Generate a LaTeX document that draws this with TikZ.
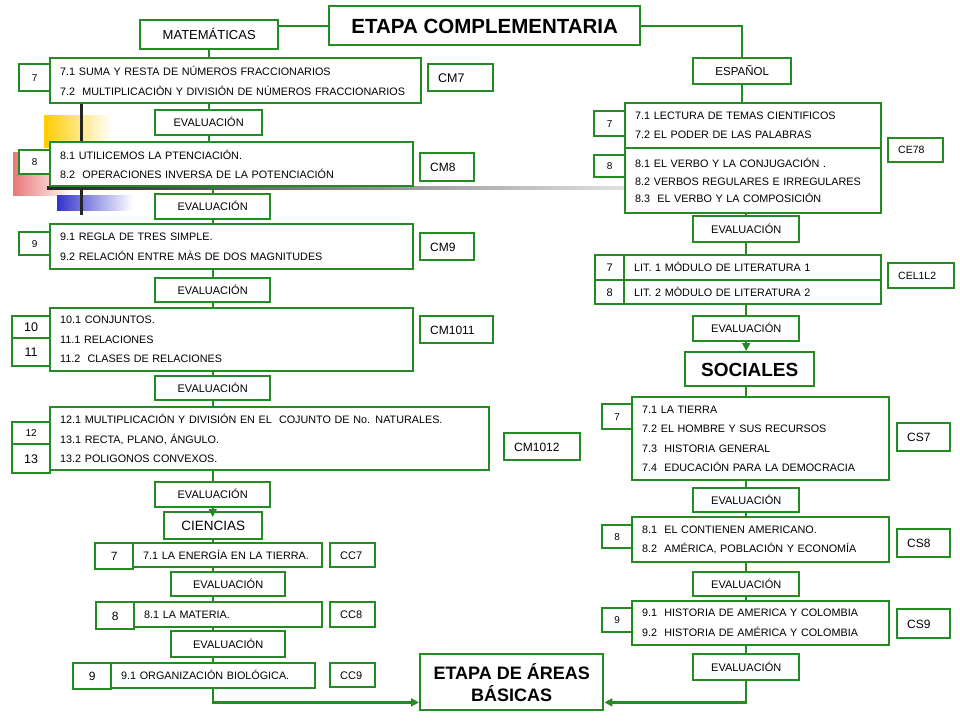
\documentclass[tikz,border=0pt]{standalone}
\usepackage{fontspec}
\setmainfont{Liberation Sans}
\usepackage{tikz}
\usetikzlibrary{arrows.meta,calc}

\definecolor{grn}{RGB}{34,140,34}
\definecolor{ylw}{RGB}{255,204,0}
\definecolor{pnk}{RGB}{232,120,120}
\definecolor{blu}{RGB}{51,51,204}

\begin{document}
\begin{tikzpicture}[x=1pt, y=-1pt,
  box/.style={draw=grn, line width=2.4pt, fill=white, anchor=north west, inner sep=0pt},
  topic/.style={box, align=left, inner xsep=10pt, font=\fontsize{10.8}{19.5}\selectfont},
  code/.style={box, align=left, inner xsep=10pt, text height=8.6pt, text depth=0pt, font=\fontsize{12}{14}\selectfont},
  num/.style={box, align=center, text height=7.2pt, text depth=0pt, font=\fontsize{10}{12}\selectfont},
  bignum/.style={num, text height=9pt, font=\fontsize{12.5}{14}\selectfont},
  evalbox/.style={box, minimum width=#1, minimum height=25pt, text height=8pt, text depth=0pt, font=\fontsize{11}{13}\selectfont},
  evalbox/.default=115pt,
  areabox/.style={box, text height=9.3pt, text depth=0pt, font=\fontsize{13}{15}\selectfont},
  link/.style={draw=grn, line width=2.4pt},
  arr/.style={link, -{Triangle[length=8pt,width=8pt]}}]
\useasboundingbox (0,0) rectangle (960,720);

% slide decoration
\shade[left color=ylw, middle color=ylw, right color=white] (44,115) rectangle (112,147);
\shade[left color=pnk, right color=white] (13,152) rectangle (72,195);
\shade[left color=blu, middle color=blu, right color=white] (57,195) rectangle (133,210);
\fill[black!85] (79.5,104) rectangle (82.5,215);
\shade[left color=black!85, right color=black!12] (47,186.5) rectangle (624,189.5);

% headings
\node[box, minimum width=311pt, minimum height=39pt, text height=14.7pt, text depth=0pt, font=\bfseries\fontsize{20.5}{24}\selectfont] (title) at (328,5) {ETAPA COMPLEMENTARIA};
\node[areabox, minimum width=138pt, minimum height=29pt] (mat) at (139,19) {MATEMÁTICAS};
\node[areabox, minimum width=98pt, minimum height=26pt, text height=8.2pt, font=\fontsize{11.5}{13}\selectfont] (esp) at (692,57) {ESPAÑOL};

% matematicas
\node[num, minimum width=31pt, minimum height=27pt] (m7n) at (18,63) {7};
\node[topic, text width=351pt, minimum height=45pt] (m7) at (49,57) {7.1 SUMA Y RESTA DE NÚMEROS FRACCIONARIOS\\7.2 \ MULTIPLICACIÒN Y DIVISIÓN DE NÚMEROS FRACCIONARIOS};
\node[code, text width=45pt, minimum height=27pt, text height=9pt, font=\fontsize{12.5}{14}\selectfont] (cm7) at (427,63) {CM7};
\node[evalbox=107pt] (ev1) at (154,109) {EVALUACIÓN};

\node[num, minimum width=31pt, minimum height=24pt] (m8n) at (18,149) {8};
\node[topic, text width=343pt, minimum height=44pt] (m8) at (49,141) {8.1 UTILICEMOS LA PTENCIACIÓN.\\8.2 \ OPERACIONES INVERSA DE LA POTENCIACIÓN};
\node[code, text width=34pt, minimum height=28pt] (cm8) at (419,152) {CM8};
\node[evalbox] (ev2) at (154,193) {EVALUACIÓN};

\node[num, minimum width=31pt, minimum height=23pt] (m9n) at (18,231) {9};
\node[topic, text width=343pt, minimum height=45pt] (m9) at (49,223) {9.1 REGLA DE TRES SIMPLE.\\9.2 RELACIÓN ENTRE MÀS DE DOS MAGNITUDES};
\node[code, text width=34pt, minimum height=27pt] (cm9) at (419,232) {CM9};
\node[evalbox, minimum height=24pt] (ev3) at (154,277) {EVALUACIÓN};

\node[bignum, minimum width=38pt, minimum height=22pt] (m10n) at (11,315) {10};
\node[bignum, minimum width=38pt, minimum height=28pt] (m11n) at (11,337) {11};
\node[topic, text width=343pt, minimum height=63pt] (m10) at (49,307) {10.1 CONJUNTOS.\\11.1 RELACIONES\\11.2 \ CLASES DE RELACIONES};
\node[code, text width=53pt, minimum height=27pt] (cm10) at (419,315) {CM1011};
\node[evalbox, minimum height=24pt] (ev4) at (154,375) {EVALUACIÓN};

\node[num, minimum width=38pt, minimum height=22pt] (m12n) at (11,421) {12};
\node[bignum, minimum width=38pt, minimum height=29pt] (m13n) at (11,443) {13};
\node[topic, text width=419pt, minimum height=63pt] (m12) at (49,406) {12.1 MULTIPLICACIÓN Y DIVISIÓN EN EL \ COJUNTO DE No. NATURALES.\\13.1 RECTA, PLANO, ÁNGULO.\\13.2 POLIGONOS CONVEXOS.};
\node[code, text width=56pt, minimum height=27pt] (cm12) at (503,432) {CM1012};
\node[evalbox] (ev5) at (154,481) {EVALUACIÓN};

% ciencias
\node[areabox, minimum width=98pt, minimum height=27pt, font=\fontsize{13.5}{15}\selectfont] (cien) at (163,511) {CIENCIAS};
\node[bignum, minimum width=38pt, minimum height=26pt, font=\fontsize{12}{14}\selectfont, text height=8.6pt] (c7n) at (94,542) {7};
\node[topic, text width=169pt, minimum height=24pt, text height=7.8pt, text depth=0pt] (c7) at (132,542) {7.1 LA ENERGÍA EN LA TIERRA.};
\node[code, text width=25pt, minimum height=24pt, text height=7.9pt, font=\fontsize{11}{13}\selectfont] (cc7) at (329,542) {CC7};
\node[evalbox=114pt, minimum height=24pt] (cev1) at (170,571) {EVALUACIÓN};

\node[bignum, minimum width=38pt, minimum height=27pt, font=\fontsize{12}{14}\selectfont, text height=8.6pt] (c8n) at (95,601) {8};
\node[topic, text width=168pt, minimum height=25pt, text height=7.8pt, text depth=0pt] (c8) at (133,601) {8.1 LA MATERIA.};
\node[code, text width=25pt, minimum height=25pt, text height=7.9pt, font=\fontsize{11}{13}\selectfont] (cc8) at (329,601) {CC8};
\node[evalbox=114pt, minimum height=26pt] (cev2) at (170,630) {EVALUACIÓN};

\node[bignum, minimum width=38pt, minimum height=26pt, font=\fontsize{12}{14}\selectfont, text height=8.6pt] (c9n) at (72,662) {9};
\node[topic, text width=184pt, minimum height=25pt, text height=7.8pt, text depth=0pt] (c9) at (110,662) {9.1 ORGANIZACIÓN BIOLÓGICA.};
\node[code, text width=25pt, minimum height=24pt, text height=7.9pt, font=\fontsize{11}{13}\selectfont] (cc9) at (329,662) {CC9};

\node[box, minimum width=183pt, minimum height=56pt, align=center, font=\bfseries\fontsize{18}{22}\selectfont] (basicas) at (419,653) {ETAPA DE ÁREAS\\BÁSICAS};

% espanol
\node[num, minimum width=31pt, minimum height=25pt] (e7n) at (593,110) {7};
\node[topic, text width=236pt, minimum height=45pt, font=\fontsize{10.8}{19}\selectfont] (e7) at (624,102) {7.1 LECTURA DE TEMAS CIENTIFICOS\\7.2 EL PODER DE LAS PALABRAS};
\node[num, minimum width=31pt, minimum height=22pt] (e8n) at (593,154) {8};
\node[topic, text width=236pt, minimum height=65pt, font=\fontsize{10.8}{17.5}\selectfont] (e8) at (624,147) {8.1 EL VERBO Y LA CONJUGACIÓN .\\8.2 VERBOS REGULARES E IRREGULARES\\8.3 \ EL VERBO Y LA COMPOSICIÓN};
\node[code, text width=35pt, minimum height=24pt, text height=7.5pt, font=\fontsize{10.5}{12}\selectfont] (ce78) at (887,137) {CE78};
\node[evalbox=106pt, minimum height=26pt] (eev1) at (692,215) {EVALUACIÓN};

\node[num, minimum width=29pt, minimum height=25pt, text height=8pt, font=\fontsize{11}{13}\selectfont] (l7n) at (594,254) {7};
\node[num, minimum width=29pt, minimum height=24pt, text height=8pt, font=\fontsize{11}{13}\selectfont] (l8n) at (594,279) {8};
\node[topic, text width=237pt, minimum height=25pt, text height=7.8pt, text depth=0pt] (lit1) at (623,254) {LIT. 1 MÓDULO DE LITERATURA 1};
\node[topic, text width=237pt, minimum height=24pt, text height=7.8pt, text depth=0pt] (lit2) at (623,279) {LIT. 2 MÒDULO DE LITERATURA 2};
\node[code, text width=46pt, minimum height=25pt, text height=7.5pt, font=\fontsize{10.5}{12}\selectfont] (cel) at (887,262) {CEL1L2};
\node[evalbox=106pt] (eev2) at (692,315) {EVALUACIÓN};

% sociales
\node[box, minimum width=129pt, minimum height=34pt, text height=13.6pt, text depth=0pt, font=\bfseries\fontsize{19}{22}\selectfont] (soc) at (684,351) {SOCIALES};
\node[num, minimum width=30pt, minimum height=25pt] (s7n) at (601,403) {7};
\node[topic, text width=237pt, minimum height=83pt, font=\fontsize{10.8}{19.3}\selectfont] (s7) at (631,396) {7.1 LA TIERRA\\7.2 EL HOMBRE Y SUS RECURSOS\\7.3 \ HISTORIA GENERAL\\7.4 \ EDUCACIÓN PARA LA DEMOCRACIA};
\node[code, text width=33pt, minimum height=28pt] (cs7) at (896,422) {CS7};
\node[evalbox=106pt, minimum height=24pt] (sev1) at (692,487) {EVALUACIÓN};

\node[num, minimum width=30pt, minimum height=23pt] (s8n) at (601,524) {8};
\node[topic, text width=237pt, minimum height=45pt, font=\fontsize{10.8}{19}\selectfont] (s8) at (631,516) {8.1 \ EL CONTIENEN AMERICANO.\\8.2 \ AMÉRICA, POBLACIÓN Y ECONOMÍA};
\node[code, text width=33pt, minimum height=28pt] (cs8) at (896,528) {CS8};
\node[evalbox=106pt, minimum height=24pt] (sev2) at (692,571) {EVALUACIÓN};

\node[num, minimum width=30pt, minimum height=24pt] (s9n) at (601,607) {9};
\node[topic, text width=237pt, minimum height=44pt, font=\fontsize{10.8}{20}\selectfont] (s9) at (631,600) {9.1 \ HISTORIA DE AMERICA Y COLOMBIA\\9.2 \ HISTORIA DE AMÉRICA Y COLOMBIA};
\node[code, text width=33pt, minimum height=29pt] (cs9) at (896,608) {CS9};
\node[evalbox=106pt, minimum height=26pt] (sev3) at (692,653) {EVALUACIÓN};

% connectors
\draw[link] (title.west) -- (title.west -| mat.east);
\draw[link] (title.east) -| (esp.north);
\draw[link] (mat.south) -- (mat.south |- m7.north);
\draw[link] (ev1.north |- m7.south) -- (ev1.north) (ev1.south) -- (ev1.south |- m8.north);
\draw[link] (ev2.north |- m8.south) -- (ev2.north) (ev2.south) -- (ev2.south |- m9.north);
\draw[link] (ev3.north |- m9.south) -- (ev3.north) (ev3.south) -- (ev3.south |- m10.north);
\draw[link] (ev4.north |- m10.south) -- (ev4.north) (ev4.south) -- (ev4.south |- m12.north);
\draw[link] (ev5.north |- m12.south) -- (ev5.north);
\draw[arr] (ev5.south) -- ([yshift=-6pt]ev5.south |- cien.north);
\draw[link] (cien.south) -- (cien.south |- c7.north) (cien.south |- c7.south) -- (cien.south |- cev1.north)
  (cien.south |- cev1.south) -- (cien.south |- c8.north) (cien.south |- c8.south) -- (cien.south |- cev2.north)
  (cien.south |- cev2.south) -- (cien.south |- c9.north);
\draw[arr] (c9.south) |- ([yshift=9pt]basicas.south west);

\draw[link] (esp.south) -- (esp.south |- e7.north);
\draw[link] (eev1.north |- e8.south) -- (eev1.north) (eev1.south) -- (eev1.south |- lit1.north);
\draw[link] (eev2.north |- lit2.south) -- (eev2.north);
\draw[arr] (eev2.south) -- (eev2.south |- soc.north);
\draw[link] (sev1.north |- soc.south) -- (sev1.north |- s7.north) (sev1.north |- s7.south) -- (sev1.north)
  (sev1.south) -- (sev1.south |- s8.north);
\draw[link] (sev2.north |- s8.south) -- (sev2.north) (sev2.south) -- (sev2.south |- s9.north);
\draw[link] (sev3.north |- s9.south) -- (sev3.north);
\draw[arr] (sev3.south) |- ([yshift=9pt]basicas.south east);
\end{tikzpicture}
\end{document}
